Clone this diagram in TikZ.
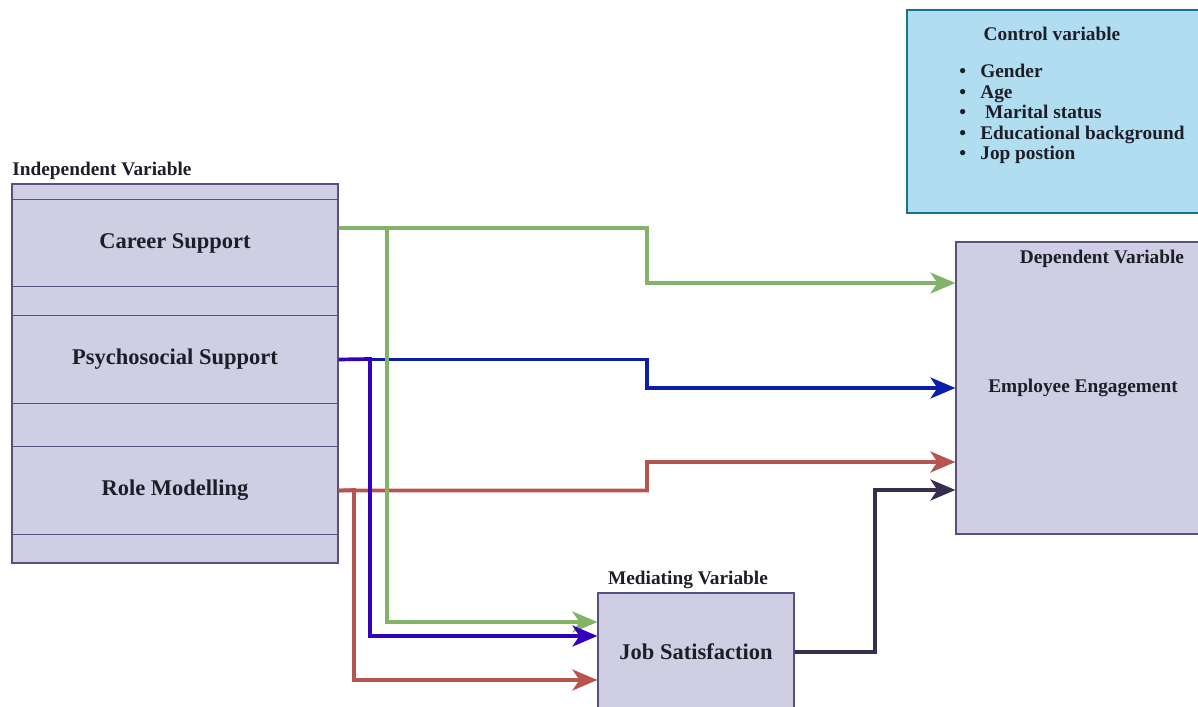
\documentclass[tikz,border=0pt]{standalone}
\usepackage{fontspec}
\setmainfont{Liberation Serif}
\definecolor{boxfill}{HTML}{D0CEE2}
\definecolor{boxline}{HTML}{56517E}
\definecolor{ctrlfill}{HTML}{B1DDF0}
\definecolor{ctrlline}{HTML}{10739E}
\definecolor{careergreen}{HTML}{82B366}
\definecolor{psyblue}{RGB}{10,30,170}
\definecolor{psyviolet}{RGB}{50,0,190}
\definecolor{rolered}{HTML}{B85450}
\definecolor{jobdark}{RGB}{55,45,80}
\definecolor{txt}{RGB}{30,30,40}
\usetikzlibrary{arrows.meta,positioning}
\newcommand\bul{\makebox[0.42cm][l]{\textbullet}}

\begin{document}
\begin{tikzpicture}[x=0.02cm,y=-0.02cm,
  varbox/.style={draw=boxline,fill=boxfill,line width=0.7pt,inner sep=0pt,
               minimum width=6.52cm,text=txt,font=\bfseries\fontsize{12.8}{15}\selectfont},
  lbl/.style={inner sep=0pt,text=txt,font=\bfseries\fontsize{11}{13}\selectfont},
  arr/.style={line width=2.1pt,-{Stealth[length=0.5cm,width=0.42cm,inset=0.14cm]}}]

  \useasboundingbox (0,0) rectangle (1198,707);

  % independent variables
  \node[varbox,minimum height=7.58cm] (iv) at (175,373.5) {};
  \node[varbox,minimum height=1.75cm] (cs) at (175,243)   {Career Support};
  \node[varbox,minimum height=1.75cm] (ps) at (175,359.5) {Psychosocial Support};
  \node[varbox,minimum height=1.75cm] (rm) at (175,490.5) {Role Modelling};
  \node[lbl,anchor=west] (ivlbl) at (12,171) {Independent Variable};

  % control variables
  \node[draw=ctrlline,fill=ctrlfill,line width=0.7pt,minimum width=6.06cm,
        minimum height=4.06cm] (cv) at (1058.5,111.5) {};
  \node[lbl] (cvlbl) at (1052,34) {Control variable};
  \node[lbl,anchor=west,align=left,font=\bfseries\fontsize{11}{11.6}\selectfont]
    (cvlist) at (959,114) {\bul Gender\\ \bul Age\\ \bul\ Marital status\\
    \bul Educational background\\ \bul Jop postion};

  % dependent and mediating
  \node[varbox,minimum width=5.08cm,minimum height=5.84cm,
        font=\bfseries\fontsize{11}{13}\selectfont] (ee) at (1083,388) {Employee Engagement};
  \node[lbl] (eelbl) at (1102,259) {Dependent Variable};
  \node[varbox,minimum width=3.92cm,minimum height=2.36cm] (js) at (696,652) {Job Satisfaction};
  \node[lbl] (jslbl) at (688,580) {Mediating Variable};

  % direct paths
  \draw[arr,careergreen] ([yshift=.3cm]cs.east) -| (647,283) -- ([yshift=2.1cm]ee.west);
  \draw[arr,psyblue] (ps.east) -| (647,388) -- (ee.west);
  \draw[arr,rolered] (rm.east) -| (647,462) -- ([yshift=-1.48cm]ee.west);

  % mediated paths
  \coordinate (gsplit) at (387,228);
  \draw[arr,careergreen] (gsplit) |- ([yshift=.6cm]js.west);
  \draw[arr,psyviolet] (ps.east) -- (370,359) |- ([yshift=.32cm]js.west);
  \draw[arr,rolered] (rm.east) -- (354,490) |- ([yshift=-.56cm]js.west);
  \draw[arr,jobdark] (js.east) -| (875,490) -- ([yshift=-2.04cm]ee.west);
\end{tikzpicture}
\end{document}
